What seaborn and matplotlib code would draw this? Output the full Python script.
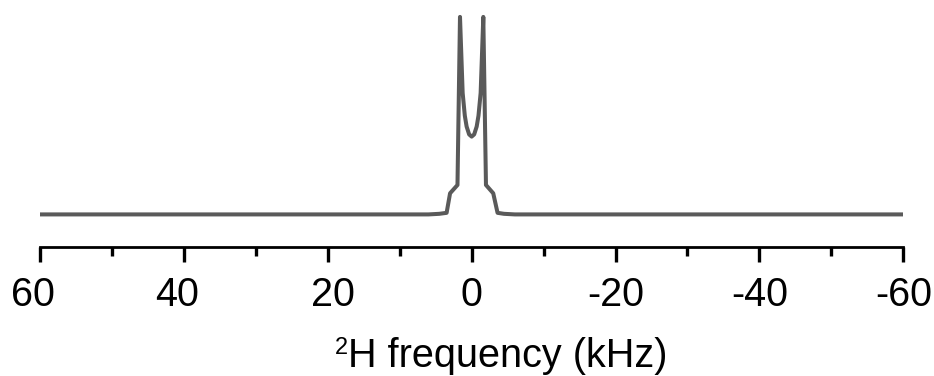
import matplotlib
matplotlib.use("Agg")
import matplotlib.pyplot as plt
import matplotlib.transforms as mtransforms
import seaborn as sns
import pandas as pd

# Data: 2H NMR spectrum (Pake-like doublet), frequency in kHz, normalized intensity
freq_khz = [60, 6.0, 4.5, 3.48, 3.0, 1.97, 1.62, 1.25, 0.95, 0.70, 0.35, 0.0,
            -0.35, -0.70, -0.95, -1.25, -1.62, -1.99, -3.0, -3.6, -4.5, -6.0, -60]
intensity = [0.0, 0.0, 0.003, 0.008, 0.107, 0.149, 1.0, 0.615, 0.50, 0.445, 0.405, 0.394,
             0.405, 0.445, 0.50, 0.615, 1.0, 0.149, 0.107, 0.008, 0.003, 0.0, 0.0]
major_ticks = [60, 40, 20, 0, -20, -40, -60]
minor_ticks = [50, 30, 10, -10, -30, -50]
tick_labels = ["60", "40", "20", "0", "-20", "-40", "-60"]
label_shift_px = [-7, -6.5, 5, 0, 0, 0, 0]

sns.set_style("ticks")
plt.rcParams["font.family"] = ["Liberation Sans", "DejaVu Sans"]
plt.rcParams["text.color"] = "black"
plt.rcParams["xtick.color"] = "black"
plt.rcParams["xtick.labelcolor"] = "black"
plt.rcParams["axes.labelcolor"] = "black"

df = pd.DataFrame({"freq": freq_khz, "intensity": intensity})

fig = plt.figure(figsize=(9.34, 3.76), dpi=100)
ax = fig.add_axes([40 / 934, 1 - 247 / 376, 863.3 / 934, 237 / 376])

sns.lineplot(data=df, x="freq", y="intensity", ax=ax, color="#5a5a5a",
             linewidth=2.9, sort=False)

ax.set_xlim(60, -60)
ax.set_ylim(-0.165, 1.035)

for s in ["top", "right", "left"]:
    ax.spines[s].set_visible(False)
ax.spines["bottom"].set_linewidth(2.0)
ax.spines["bottom"].set_color("black")

ax.set_yticks([])
ax.set_ylabel("")
ax.set_xticks(major_ticks)
ax.set_xticklabels(tick_labels)
ax.set_xticks(minor_ticks, minor=True)
ax.tick_params(axis="x", which="major", direction="out", length=10.8, width=2.4,
               labelsize=28.5, pad=10, color="black", labelcolor="black")
ax.tick_params(axis="x", which="minor", direction="out", length=6.5, width=2.4,
               color="black")

for tick, dx in zip(ax.xaxis.get_major_ticks(), label_shift_px):
    tick.label1.set_transform(tick.label1.get_transform() +
                              mtransforms.ScaledTranslation(dx / 100, 0, fig.dpi_scale_trans))

ax.set_xlabel("H frequency (kHz)", fontsize=28.5, color="black")
ax.xaxis.set_label_coords((507.5 - 40) / 863.3, -(367 - 247) / 237)
ax.xaxis.label.set_va("baseline")

fig.canvas.draw()
bb = ax.xaxis.label.get_window_extent()
fig.text((bb.x0 - 12.5) / 934, 1 - 354 / 376, "2", fontsize=17, color="black",
         ha="left", va="baseline")

fig.savefig("out.png", dpi=100)
